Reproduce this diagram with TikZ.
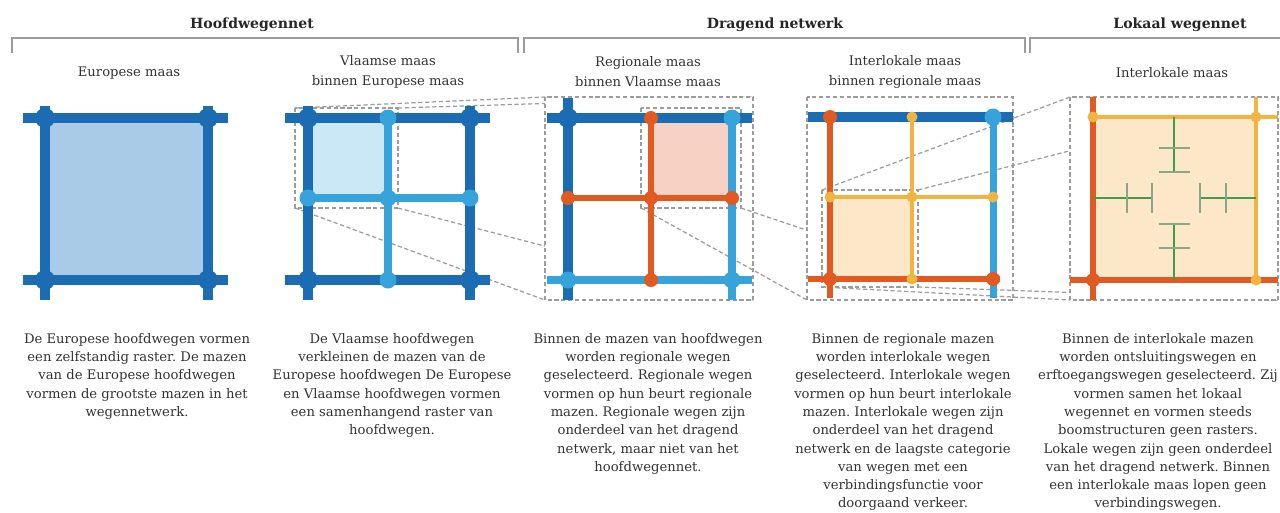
\documentclass[tikz,border=0pt]{standalone}
\usepackage{fontspec}
\setmainfont{DejaVu Serif}
\usetikzlibrary{arrows.meta,arrows}
\usetikzlibrary{positioning}
\frenchspacing

\definecolor{eurblue}{HTML}{1B6CB2}
\definecolor{vlablue}{HTML}{36A3DB}
\definecolor{regorange}{HTML}{E05A22}
\definecolor{lokyellow}{HTML}{F0B440}
\definecolor{treegreen}{HTML}{3F9E4C}
\definecolor{tickgreen}{HTML}{8FA58A}
\definecolor{framegray}{HTML}{9C9C9C}
\definecolor{eurfill}{HTML}{A9CBE8}
\definecolor{vlafill}{HTML}{CBE8F7}
\definecolor{regfill}{HTML}{F7D2C4}
\definecolor{lokfill}{HTML}{FCE7C8}
\definecolor{textgray}{HTML}{333333}

\pgfdeclarelayer{frames}
\pgfdeclarelayer{roads}
\pgfsetlayers{frames,roads,main}

\tikzset{
    eurnode/.style={fill=eurblue, minimum size=4mm},
    vlanode/.style={fill=vlablue, minimum size=3.4mm},
    regnode/.style={fill=regorange, minimum size=2.8mm},
    loknode/.style={fill=lokyellow, minimum size=2.2mm},
    eurroad/.style={draw=eurblue, line width=5.2pt},
    vlaroad/.style={draw=vlablue, line width=4pt},
    regroad/.style={draw=regorange, line width=3.4pt},
    lokroad/.style={draw=lokyellow, line width=2.8pt},
    treeroad/.style={draw=treegreen, line width=1.2pt},
    treetick/.style={draw=tickgreen, line width=1pt},
    ext/.style 2 args={shorten <=-#1, shorten >=-#2},
    zoombox/.style={draw=framegray, line width=0.7pt, dash pattern=on 2.4pt off 1.5pt},
    bracket/.style={draw=framegray, line width=0.8pt},
    header/.style={font=\fontsize{8}{10}\selectfont\bfseries, text=black!85},
    title/.style={font=\fontsize{7.5}{11.3}\selectfont, align=center},
    desc/.style={font=\fontsize{7.5}{10.4}\selectfont, align=center, anchor=north, inner sep=0pt}
}

\begin{document}
\begin{tikzpicture}[x=0.02cm, y=-0.02cm, text=textgray]
        \useasboundingbox (0,0) rectangle (1280,512);

        \node[header] (H1) at (252,25) {Hoofdwegennet};
        \node[header] (H2) at (775,25) {Dragend netwerk};
        \node[header] (H3) at (1180,25) {Lokaal wegennet};
        \draw[bracket] (12,53) -- (12,38) -- (518,38) -- (518,53);
        \draw[bracket] (524,53) -- (524,38) -- (1025,38) -- (1025,53);
        \draw[bracket] (1030,53) -- (1030,38) -- (1282,38);

        \node[title] (L1) at (129,73) {Europese maas};
        \node[title] (L2) at (388,72) {Vlaamse maas\\binnen Europese maas};
        \node[title] (L3) at (648,72) {Regionale maas\\binnen Vlaamse maas};
        \node[title] (L4) at (905,72) {Interlokale maas\\binnen regionale maas};
        \node[title] (L5) at (1172,73) {Interlokale maas};

        \begin{scope}[every node/.style={circle,inner sep=0pt}]
            \node[eurnode] (A1) at (45,118) {};
            \node[eurnode] (A2) at (208,118) {};
            \node[eurnode] (A3) at (45,280) {};
            \node[eurnode] (A4) at (208,280) {};

            \node[eurnode] (B1) at (308,118) {};
            \node[vlanode] (B2) at (388,118) {};
            \node[eurnode] (B3) at (470,118) {};
            \node[vlanode] (B4) at (308,198) {};
            \node[vlanode] (B5) at (388,198) {};
            \node[vlanode] (B6) at (470,198) {};
            \node[eurnode] (B7) at (308,280) {};
            \node[vlanode] (B8) at (388,280) {};
            \node[eurnode] (B9) at (470,280) {};

            \node[eurnode] (C1) at (568,118) {};
            \node[regnode] (C2) at (651,118) {};
            \node[vlanode] (C3) at (732,118) {};
            \node[regnode] (C4) at (568,198) {};
            \node[regnode] (C5) at (651,198) {};
            \node[regnode] (C6) at (732,198) {};
            \node[vlanode] (C7) at (568,280) {};
            \node[regnode] (C8) at (651,280) {};
            \node[vlanode] (C9) at (732,280) {};

            \node[regnode] (D1) at (830,117) {};
            \node[loknode] (D2) at (912,117) {};
            \node[vlanode] (D3) at (993,117) {};
            \node[loknode] (D4) at (830,197) {};
            \node[loknode] (D5) at (912,197) {};
            \node[loknode] (D6) at (993,197) {};
            \node[regnode] (D7) at (830,279) {};
            \node[loknode] (D8) at (912,279) {};
            \node[regnode] (D9) at (993,279) {};

            \node[loknode] (E1) at (1093,117) {};
            \node[loknode] (E2) at (1256,117) {};
            \node[regnode] (E3) at (1093,280) {};
            \node[loknode] (E4) at (1256,280) {};
        \end{scope}

        \coordinate (Z1) at (295,108);
        \coordinate (Z2) at (398,208);
        \coordinate (R1) at (545,97);
        \coordinate (R2) at (753,300);
        \coordinate (Z3) at (641,108);
        \coordinate (Z4) at (741,208);
        \coordinate (R3) at (807,97);
        \coordinate (R4) at (1013,300);
        \coordinate (Z5) at (822,190);
        \coordinate (Z6) at (918,287);
        \coordinate (R5) at (1070,97);
        \coordinate (R6) at (1278,300);

        \begin{pgfonlayer}{frames}
            \fill[white] (0,0) rectangle (1280,512);
            \fill[eurfill] (A1.center) rectangle (A4.center);
            \fill[vlafill] (B1.center) rectangle (B5.center);
            \draw[zoombox] (Z1) rectangle (Z2);
            \path[zoombox] (Z1) edge (R1) (Z2 |- Z1) edge (R2 |- R1)
                (Z1 |- Z2) edge (R1 |- R2) (Z2) edge (R2);
            \filldraw[zoombox, fill=white] (R1) rectangle (R2);
            \fill[regfill] (C2.center) rectangle (C6.center);
            \draw[zoombox] (Z3) rectangle (Z4);
            \path[zoombox] (Z3 |- Z4) edge (R3 |- R4) (Z4) edge (R4);
            \filldraw[zoombox, fill=white] (R3) rectangle (R4);
            \fill[lokfill] (D4.center) rectangle (D8.center);
            \draw[zoombox] (Z5) rectangle (Z6);
            \path[zoombox] (Z5) edge (R5) (Z6 |- Z5) edge (R6 |- R5)
                (Z5 |- Z6) edge (R5 |- R6) (Z6) edge (R6);
            \filldraw[zoombox, fill=white] (R5) rectangle (R6);
            \fill[lokfill] (E1.center) rectangle (E4.center);
        \end{pgfonlayer}

        \begin{pgfonlayer}{roads}
            \path[eurroad] (A1.center) edge[ext={4.4mm}{4mm}] (A2.center)
                (A3.center) edge[ext={4.4mm}{4mm}] (A4.center)
                (A1.center) edge[ext={2.4mm}{4mm}] (A3.center)
                (A2.center) edge[ext={2.4mm}{4mm}] (A4.center);

            \path[vlaroad] (B2.center) edge (B8.center) (B4.center) edge (B6.center);
            \path[eurroad] (B1.center) edge[ext={4.6mm}{4mm}] (B3.center)
                (B7.center) edge[ext={4.6mm}{4mm}] (B9.center)
                (B1.center) edge[ext={2.4mm}{4mm}] (B7.center)
                (B3.center) edge[ext={2.4mm}{4mm}] (B9.center);

            \path[regroad] (C2.center) edge (C8.center) (C4.center) edge (C6.center);
            \path[vlaroad] (C3.center) edge[ext={0mm}{4mm}] (C9.center)
                (C7.center) edge[ext={4.2mm}{4mm}] (C9.center);
            \path[eurroad] (C1.center) edge[ext={4.2mm}{4mm}] (C3.center)
                (C1.center) edge[ext={4mm}{4mm}] (C7.center);

            \path[lokroad] (D2.center) edge (D8.center) (D4.center) edge (D6.center);
            \path[regroad] (D1.center) edge[ext={0mm}{3.8mm}] (D7.center)
                (D7.center) edge[ext={4.4mm}{1.4mm}] (D9.center);
            \path[vlaroad] (D3.center) edge[ext={0mm}{3.8mm}] (D9.center);
            \path[eurroad] (D1.center) edge[ext={4.4mm}{4mm}] (D3.center);

            \path[lokroad] (E1.center) edge[ext={0mm}{4.4mm}] (E2.center)
                (E2.center) edge[ext={4mm}{0mm}] (E4.center);
            \path[regroad] (E1.center) edge[ext={4mm}{4mm}] (E3.center)
                (E3.center) edge[ext={4.6mm}{4.4mm}] (E4.center);

            \coordinate (G1) at (1174,117);
            \coordinate (G2) at (1174,172);
            \coordinate (G3) at (1174,148);
            \coordinate (G4) at (1174,280);
            \coordinate (G5) at (1174,224);
            \coordinate (G6) at (1174,248);
            \coordinate (G7) at (1093,198);
            \coordinate (G8) at (1152,198);
            \coordinate (G9) at (1127,198);
            \coordinate (G10) at (1256,198);
            \coordinate (G11) at (1200,198);
            \coordinate (G12) at (1226,198);
            \path[treeroad] (G1) edge (G2) (G4) edge (G5) (G7) edge (G8) (G10) edge (G11);
            \foreach \g in {G2,G3,G5,G6}
                \draw[treetick] ([xshift=-3.1mm]\g) -- ([xshift=3.1mm]\g);
            \foreach \g in {G8,G9,G11,G12}
                \draw[treetick] ([yshift=-3mm]\g) -- ([yshift=3mm]\g);
        \end{pgfonlayer}

        \node[desc] (S1) at (137,333) {De Europese hoofdwegen vormen\\een zelfstandig raster. De mazen\\van de Europese hoofdwegen\\vormen de grootste mazen in het\\wegennetwerk.};
        \node[desc] (S2) at (392,333) {De Vlaamse hoofdwegen\\verkleinen de mazen van de\\Europese hoofdwegen De Europese\\en Vlaamse hoofdwegen vormen\\een samenhangend raster van\\hoofdwegen.};
        \node[desc] (S3) at (648,333) {Binnen de mazen van hoofdwegen\\worden regionale wegen\\geselecteerd. Regionale wegen\\vormen op hun beurt regionale\\mazen. Regionale wegen zijn\\onderdeel van het dragend\\netwerk, maar niet van het\\hoofdwegennet.};
        \node[desc] (S4) at (903,333) {Binnen de regionale mazen\\worden interlokale wegen\\geselecteerd. Interlokale wegen\\vormen op hun beurt interlokale\\mazen. Interlokale wegen zijn\\onderdeel van het dragend\\netwerk en de laagste categorie\\van wegen met een\\verbindingsfunctie voor\\doorgaand verkeer.};
        \node[desc] (S5) at (1158,333) {Binnen de interlokale mazen\\worden ontsluitingswegen en\\erftoegangswegen geselecteerd. Zij\\vormen samen het lokaal\\wegennet en vormen steeds\\boomstructuren geen rasters.\\Lokale wegen zijn geen onderdeel\\van het dragend netwerk. Binnen\\een interlokale maas lopen geen\\verbindingswegen.};
    \end{tikzpicture}
\end{document}
